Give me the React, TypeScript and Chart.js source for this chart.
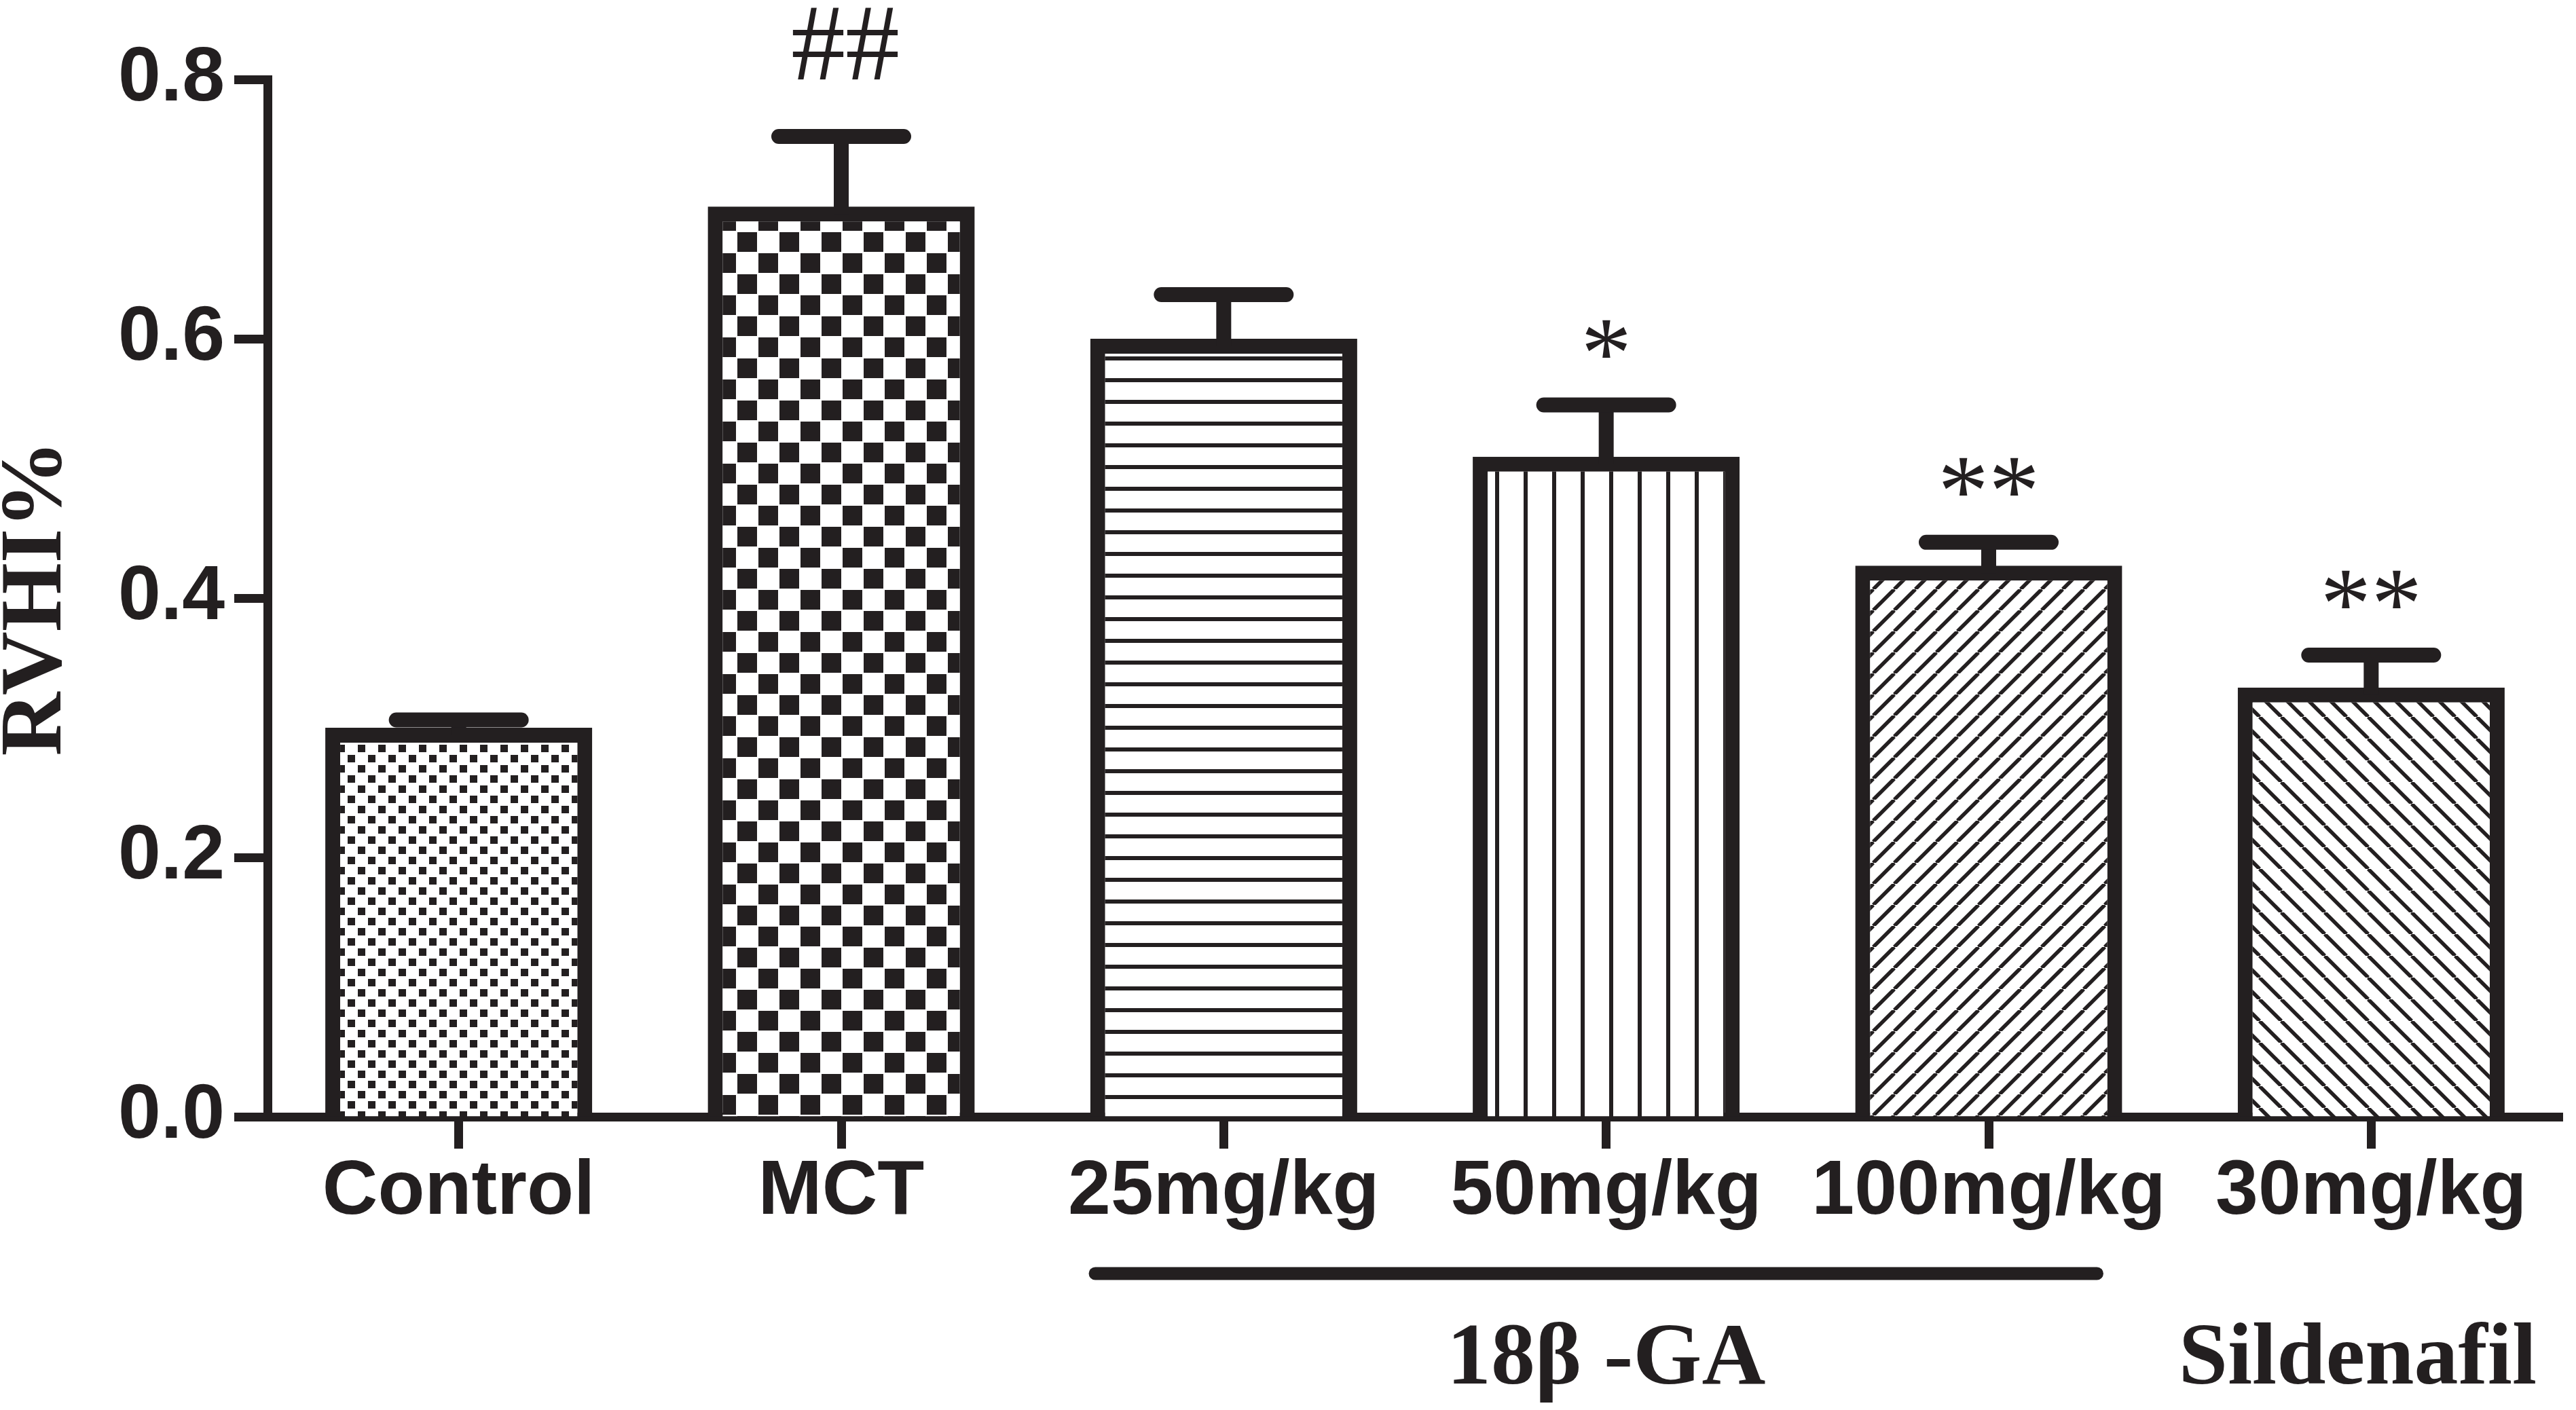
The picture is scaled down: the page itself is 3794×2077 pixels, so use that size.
import React, { useEffect, useRef } from 'react';
import { Chart, registerables } from 'chart.js';

Chart.register(...registerables);

// RVHI% per group (mean and SEM)
const groups = ['Control', 'MCT', '25mg/kg', '50mg/kg', '100mg/kg', '30mg/kg'];
const rvhiMean = [0.3, 0.702, 0.6, 0.509, 0.425, 0.331];
const rvhiSem = [0.006, 0.054, 0.034, 0.04, 0.018, 0.025];
const marks = ['', '##', '', '*', '**', '**'];
const fills = ['dots', 'checker', 'hlines', 'vlines', 'diagUp', 'diagDown'];
const yTicks = [0, 0.2, 0.4, 0.6, 0.8];
const treatments = [
    { label: '18β -GA', from: 2, to: 4, underline: true },
    { label: 'Sildenafil', from: 5, to: 5, underline: false },
];

const INK = '#231f20';
const SANS = "'Liberation Sans', Arial, sans-serif";
const SERIF = "'Liberation Serif', 'Times New Roman', serif";
const W = 3794;
const H = 2077;

function makePattern(kind: string): CanvasPattern | string {
    const sizes: Record<string, number> = { dots: 30, checker: 62, hlines: 32, vlines: 42, diagUp: 31, diagDown: 32 };
    const s = sizes[kind];
    const c = document.createElement('canvas');
    c.width = s;
    c.height = s;
    const g = c.getContext('2d');
    if (!g) return '#fff';
    g.fillStyle = '#fff';
    g.fillRect(0, 0, s, s);
    g.fillStyle = INK;
    g.strokeStyle = INK;
    if (kind === 'dots') {
        g.fillRect(2, 2, 11, 11);
        g.fillRect(17, 17, 11, 11);
    } else if (kind === 'checker') {
        g.fillRect(1, 1, 29, 29);
        g.fillRect(32, 32, 29, 29);
    } else if (kind === 'hlines') {
        g.fillRect(0, 13, s, 6);
    } else if (kind === 'vlines') {
        g.fillRect(18, 0, 6, s);
    } else {
        g.lineWidth = 5.5;
        for (let k = -1; k <= 1; k++) {
            g.beginPath();
            if (kind === 'diagUp') {
                g.moveTo(k * s, s);
                g.lineTo(k * s + s, 0);
            } else {
                g.moveTo(k * s, 0);
                g.lineTo(k * s + s, s);
            }
            g.stroke();
        }
    }
    return g.createPattern(c, 'repeat') || '#fff';
}

const overlay = {
    id: 'overlay',
    afterDatasetsDraw(chart: any) {
        const { ctx } = chart;
        const y = chart.scales.y;
        const bars = chart.getDatasetMeta(0).data;
        ctx.save();
        ctx.strokeStyle = INK;
        ctx.lineWidth = 22;
        bars.forEach((bar: any, i: number) => {
            const top = y.getPixelForValue(rvhiMean[i]);
            const end = y.getPixelForValue(rvhiMean[i] + rvhiSem[i]);
            ctx.lineCap = 'butt';
            ctx.beginPath();
            ctx.moveTo(bar.x, top + 11);
            ctx.lineTo(bar.x, end);
            ctx.stroke();
            ctx.lineCap = 'round';
            ctx.beginPath();
            ctx.moveTo(bar.x - 92, end);
            ctx.lineTo(bar.x + 92, end);
            ctx.stroke();
        });
        ctx.restore();
    },
    afterDraw(chart: any) {
        const { ctx, chartArea } = chart;
        const x = chart.scales.x;
        const y = chart.scales.y;
        const bars = chart.getDatasetMeta(0).data;
        const step = x.getPixelForValue(1) - x.getPixelForValue(0);
        ctx.save();
        ctx.fillStyle = INK;
        ctx.strokeStyle = INK;

        // significance marks above the error caps (# glyphs sit on the baseline, * float high)
        ctx.textAlign = 'center';
        ctx.textBaseline = 'alphabetic';
        bars.forEach((bar: any, i: number) => {
            if (!marks[i]) return;
            const hash = marks[i].includes('#');
            const end = y.getPixelForValue(rvhiMean[i] + rvhiSem[i]);
            ctx.font = `${hash ? 160 : 150}px ${SERIF}`;
            ctx.fillText(marks[i], bar.x + (hash ? 6 : 0), end - (hash ? 84 : 26));
        });

        // treatment groups under the category labels
        ctx.font = `bold 130px ${SERIF}`;
        treatments.forEach((t) => {
            const x0 = x.getPixelForValue(t.from);
            const x1 = x.getPixelForValue(t.to);
            if (t.underline) {
                ctx.lineWidth = 19;
                ctx.lineCap = 'round';
                ctx.beginPath();
                ctx.moveTo(x0 - step * 0.336, chartArea.bottom + 231);
                ctx.lineTo(x1 + step * 0.283, chartArea.bottom + 231);
                ctx.stroke();
            }
            ctx.fillText(t.label, (x0 + x1) / 2 - (t.underline ? 0 : 20), chartArea.bottom + 393);
        });
        ctx.restore();
    },
};

const App: React.FC = () => {
    const chartRef = useRef<HTMLCanvasElement>(null);

    useEffect(() => {
        if (!chartRef.current) return;
        const chart = new Chart(chartRef.current, {
            type: 'bar',
            data: {
                labels: groups,
                datasets: [
                    {
                        data: rvhiMean,
                        backgroundColor: fills.map(makePattern),
                        borderColor: INK,
                        borderWidth: 22,
                        borderSkipped: 'start',
                        barPercentage: 0.698,
                        categoryPercentage: 1,
                    },
                ],
            },
            options: {
                animation: false,
                responsive: true,
                maintainAspectRatio: false,
                layout: { padding: { left: 0, top: 117, right: 20, bottom: 0 } },
                plugins: { legend: { display: false }, tooltip: { enabled: false } },
                scales: {
                    x: {
                        offset: true,
                        z: 1,
                        grid: {
                            drawOnChartArea: false,
                            offset: false,
                            tickLength: 47,
                            tickWidth: 13,
                            tickColor: INK,
                        },
                        border: { display: true, width: 13, color: INK },
                        ticks: {
                            color: INK,
                            padding: -3,
                            maxRotation: 0,
                            autoSkip: false,
                            font: { family: SANS, weight: 'bold', size: 113 },
                        },
                        afterFit: (s: any) => {
                            s.height = H - 1645;
                        },
                    },
                    y: {
                        min: 0,
                        max: 0.8,
                        z: 1,
                        afterBuildTicks: (s: any) => {
                            s.ticks = yTicks.map((value) => ({ value }));
                        },
                        grid: {
                            drawOnChartArea: false,
                            tickLength: 49,
                            tickWidth: 13,
                            tickColor: INK,
                        },
                        border: { display: true, width: 13, color: INK },
                        ticks: {
                            color: INK,
                            padding: 14,
                            font: { family: SANS, weight: 'bold', size: 113 },
                            callback: (v: any) => Number(v).toFixed(1),
                        },
                        title: {
                            display: true,
                            text: 'RVHI%',
                            color: INK,
                            padding: 0,
                            font: { family: SERIF, weight: 'bold', size: 130, lineHeight: 0.86 },
                        },
                        afterFit: (s: any) => {
                            s.width = 394;
                        },
                    },
                },
            },
            plugins: [overlay],
        });

        return () => {
            chart.destroy();
        };
    }, []);

    return (
        <div style={{ position: 'fixed', left: 0, top: 0, width: W + 'px', height: H + 'px', background: '#fff' }}>
            <canvas ref={chartRef} />
        </div>
    );
};

export default App;
